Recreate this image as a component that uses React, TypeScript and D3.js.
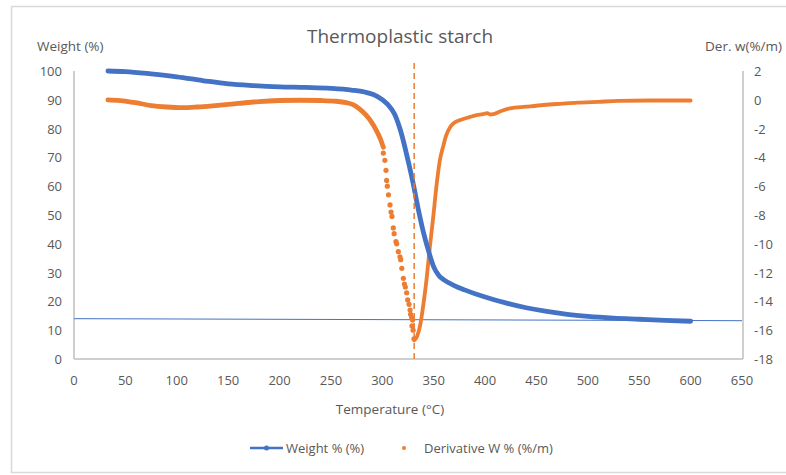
import React from "react";
import * as d3 from "d3";

// ---------- data ----------
const xTicks = [0, 50, 100, 150, 200, 250, 300, 350, 400, 450, 500, 550, 600, 650];
const leftTicks = [0, 10, 20, 30, 40, 50, 60, 70, 80, 90, 100];
const rightTicks = [-18, -16, -14, -12, -10, -8, -6, -4, -2, 0, 2];

const weightTemp = [33, 50, 75, 100, 125, 150, 175, 200, 225, 250, 270, 285, 295, 305, 312, 318, 325, 330, 335, 340, 345, 350, 355, 360, 370, 380, 400, 420, 440, 460, 480, 500, 525, 550, 575, 600];
const weightValue = [100, 99.8, 99, 98, 96.7, 95.5, 94.9, 94.5, 94.3, 94, 93.4, 92.5, 91.2, 88.5, 85, 79, 69, 61, 52, 44, 37.5, 32, 29, 27.5, 25.5, 24, 21.5, 19.5, 17.8, 16.5, 15.5, 14.8, 14.2, 13.8, 13.4, 13.1];

// derivative – dense part before the drop
const derivATemp = [33, 45, 60, 75, 90, 105, 120, 140, 160, 180, 200, 220, 240, 255, 265, 272, 278, 284, 289, 294, 298, 301];
const derivAValue = [0.0, -0.05, -0.2, -0.4, -0.5, -0.55, -0.5, -0.38, -0.25, -0.12, -0.05, -0.03, -0.05, -0.1, -0.2, -0.35, -0.65, -1.05, -1.5, -2.1, -2.7, -3.3];
// derivative – sparse dots on the falling side of the peak
const derivDotTemp = [301, 302.5, 303.6, 304.2, 304.9, 306, 307.5, 308.5, 309.4, 310.7, 311.5, 313.3, 314, 315.6, 317.2, 317.9, 319, 320.5, 321.5, 322.4, 323.7, 324.7, 326, 327, 327.5, 328.6, 328.9, 329.5, 330, 330.8];
const derivDotValue = [-3.7, -4.2, -4.9, -5.6, -6.0, -6.6, -7.3, -7.8, -8.1, -8.9, -9.3, -9.85, -10.0, -10.55, -10.9, -11.1, -11.7, -12.4, -12.8, -13.0, -13.4, -13.9, -14.2, -14.6, -14.9, -15.1, -15.7, -15.3, -16.0, -16.6];
// derivative – dense part after the peak
const derivBTemp = [331, 334, 337, 340, 343, 346, 349.6, 353, 356, 359, 362, 366, 370, 376, 385, 392, 398, 402, 405, 408, 415, 424, 440, 457, 475, 490, 510, 530, 560, 600];
const derivBValue = [-16.7, -16.4, -15.6, -14.2, -12.5, -10.4, -8.1, -5.8, -4.2, -3.3, -2.5, -1.9, -1.6, -1.4, -1.2, -1.06, -1.0, -0.92, -1.02, -1.0, -0.8, -0.6, -0.48, -0.36, -0.27, -0.2, -0.14, -0.08, -0.05, -0.05];

const refLineTemp = [0, 650];
const refLineWeight = [14.0, 13.3];
const peakTemp = 331;

const title = "Thermoplastic starch";
const xTitle = "Temperature (°C)";
const leftTitle = "Weight (%)";
const rightTitle = "Der. w(%/m)";
const legendWeight = "Weight % (%)";
const legendDeriv = "Derivative W % (%/m)";

// ---------- styling ----------
const W = 786;
const H = 475;
const FONT = "'Open Sans', sans-serif";
const TXT = "#595959";
const BLUE = "#4472C4";
const ORANGE = "#ED7D31";
const AXIS = "#BFBFBF";

export default function App() {
  const x = d3.scaleLinear().domain([0, 650]).range([74, 742]);
  const yL = d3.scaleLinear().domain([0, 100]).range([359, 71]);
  const yR = d3.scaleLinear().domain([-18, 2]).range([359, 71]);

  const weightPts = weightTemp.map((t, i) => [t, weightValue[i]] as [number, number]);
  const aPts = derivATemp.map((t, i) => [t, derivAValue[i]] as [number, number]);
  const bPts = derivBTemp.map((t, i) => [t, derivBValue[i]] as [number, number]);

  const lineL = d3
    .line<[number, number]>()
    .x((d) => x(d[0]))
    .y((d) => yL(d[1]))
    .curve(d3.curveMonotoneX);
  const lineR = d3
    .line<[number, number]>()
    .x((d) => x(d[0]))
    .y((d) => yR(d[1]))
    .curve(d3.curveMonotoneX);
  const refPts = refLineTemp.map((t, i) => [t, refLineWeight[i]] as [number, number]);
  const straight = d3
    .line<[number, number]>()
    .x((d) => x(d[0]))
    .y((d) => yL(d[1]));

  const [x0, x1] = x.range();
  const [yb, yt] = yL.range();

  return (
    <div style={{ position: "fixed", left: 0, top: 0, width: W, height: H, background: "#fff" }}>
      <svg width={W} height={H} style={{ display: "block", fontFamily: FONT }}>
        <rect x={11.5} y={6.5} width={W + 10} height={466} fill="#fff" stroke="#D9D9D9" strokeWidth={1.5} />

        {/* title */}
        <text x={400} y={43} textAnchor="middle" fontSize={19} fill={TXT}>
          {title}
        </text>
        <text x={37} y={51} fontSize={13.5} fill={TXT}>
          {leftTitle}
        </text>
        <text x={782} y={51} textAnchor="end" fontSize={13.5} fill={TXT}>
          {rightTitle}
        </text>

        {/* axes */}
        <line x1={x0} x2={x0} y1={yt} y2={yb} stroke={AXIS} strokeWidth={1.5} />
        <line x1={x1 + 1} x2={x1 + 1} y1={yt} y2={yb} stroke={AXIS} strokeWidth={1.5} />
        <line x1={x0} x2={x1 + 1} y1={yb} y2={yb} stroke={AXIS} strokeWidth={1.5} />

        {leftTicks.map((v) => (
          <text key={"l" + v} x={62} y={yL(v) + 5} textAnchor="end" fontSize={13} fill={TXT}>
            {v}
          </text>
        ))}
        {rightTicks.map((v) => (
          <text key={"r" + v} x={754} y={yR(v) + 5} fontSize={13} fill={TXT}>
            {v}
          </text>
        ))}
        {xTicks.map((v) => (
          <text key={"x" + v} x={x(v)} y={385} textAnchor="middle" fontSize={13} fill={TXT}>
            {v}
          </text>
        ))}
        <text x={390} y={414} textAnchor="middle" fontSize={13.5} fill={TXT}>
          {xTitle}
        </text>

        {/* reference horizontal line */}
        <path d={straight(refPts) || ""} fill="none" stroke={BLUE} strokeWidth={1} />

        {/* derivative series */}
        <path d={lineR(aPts) || ""} fill="none" stroke={ORANGE} strokeWidth={4.8} strokeLinecap="round" />
        <path d={lineR(bPts) || ""} fill="none" stroke={ORANGE} strokeWidth={3.8} strokeLinecap="round" />
        {derivDotTemp.map((t, i) => (
          <circle key={"d" + i} cx={x(t)} cy={yR(derivDotValue[i])} r={2.6} fill={ORANGE} />
        ))}

        {/* weight series */}
        <path d={lineL(weightPts) || ""} fill="none" stroke={BLUE} strokeWidth={4.8} strokeLinecap="round" />

        {/* peak marker */}
        <line
          x1={x(peakTemp)}
          x2={x(peakTemp)}
          y1={yL(102.8)}
          y2={yb}
          stroke={ORANGE}
          strokeWidth={1.5}
          strokeDasharray="6,4"
        />

        {/* legend */}
        <line x1={250} x2={283} y1={448} y2={448} stroke={BLUE} strokeWidth={2.5} />
        <circle cx={266.5} cy={448} r={2.5} fill={BLUE} />
        <text x={286} y={453} fontSize={13} fill={TXT}>
          {legendWeight}
        </text>
        <circle cx={404} cy={448} r={2} fill={ORANGE} />
        <text x={424} y={453} fontSize={13} fill={TXT}>
          {legendDeriv}
        </text>
      </svg>
    </div>
  );
}
